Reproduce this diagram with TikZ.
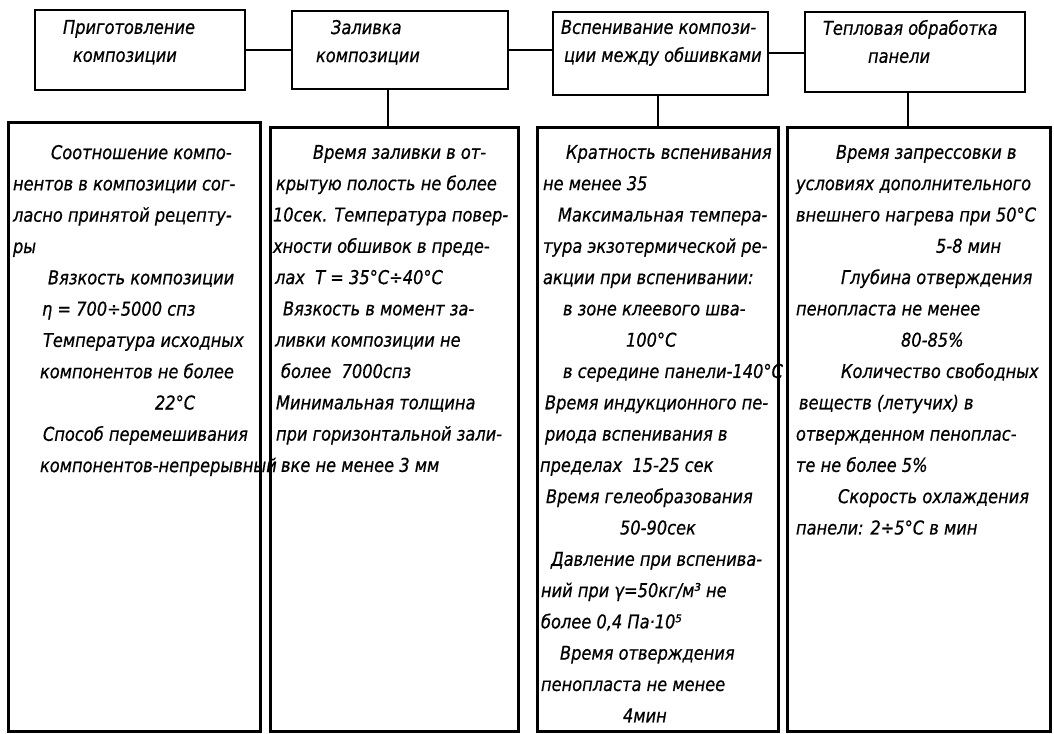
\documentclass[tikz,border=0pt]{standalone}
\usepackage{fontspec}
\setmainfont{DejaVu Sans Condensed}[ItalicFont={DejaVu Sans Condensed Oblique}, FakeStretch=0.95, FakeBold=0.6]
\usepackage{tikz}

\begin{document}
\begin{tikzpicture}[x=1pt, y=-1pt,
				line width=2pt,
				stage/.style={draw, line width=2.6pt, inner sep=0pt},
				cell/.style={draw, line width=3pt, inner sep=0pt},
				head/.style={anchor=north west, inner sep=0pt, align=left, font=\fontsize{19}{28}\selectfont\itshape},
				body/.style={anchor=north west, inner sep=0pt, align=left, font=\fontsize{19}{31.3}\selectfont\itshape}]
	\useasboundingbox (0,0) rectangle (1054,733);
	% stages
	\node at (140,50) (a) [stage, minimum width=210pt, minimum height=80pt] {};
	\node at (400,50) (b) [stage, minimum width=216pt, minimum height=78pt] {};
	\node at (660.5,53.5) (c) [stage, minimum width=215pt, minimum height=83pt] {};
	\node at (915,52) (d) [stage, minimum width=220pt, minimum height=80pt] {};
	\node at (62,19) (ah) [head] {Приготовление\\\hspace*{10pt}композиции};
	\node at (315,19) (bh) [head] {\hspace*{15pt}Заливка\\композиции};
	\node at (560,19) (ch) [head] {Вспенивание компози-\\\hspace*{3pt}ции между обшивками};
	\node at (822,19) (dh) [head] {Тепловая обработка\\\hspace*{45pt}панели};
	% parameters
	\node at (134,427) (ta) [cell, minimum width=252pt, minimum height=608pt] {};
	\node at (394,429.5) (tb) [cell, minimum width=248pt, minimum height=603pt] {};
	\node at (657.5,429.5) (tc) [cell, minimum width=241pt, minimum height=603pt] {};
	\node at (918.5,429.5) (td) [cell, minimum width=263pt, minimum height=603pt] {};
	\node at (12,144) (at) [body] {\hspace*{38pt}Соотношение компо-\\
		нентов в композиции сог-\\
		ласно принятой рецепту-\\
		ры\\
		\hspace*{35pt}Вязкость композиции\\
		\hspace*{29pt}η = 700÷5000 спз\\
		\hspace*{30pt}Температура исходных\\
		\hspace*{27pt}компонентов не более\\
		\hspace*{142pt}22°C\\
		\hspace*{30pt}Способ перемешивания\\
		\hspace*{27pt}компонентов-непрерывный};
	\node at (272,144) (bt) [body] {\hspace*{40pt}Время заливки в от-\\
		\hspace*{3pt}крытую полость не более\\
		10сек. Температура повер-\\
		хности обшивок в преде-\\
		\hspace*{2pt}лах \ T = 35°C÷40°C\\
		\hspace*{10pt}Вязкость в момент за-\\
		\hspace*{2pt}ливки композиции не\\
		\hspace*{8pt}более \ 7000спз\\
		\hspace*{3pt}Минимальная толщина\\
		\hspace*{3pt}при горизонтальной зали-\\
		\hspace*{8pt}вке не менее 3 мм};
	\node at (539,144) (ct) [body] {\hspace*{26pt}Кратность вспенивания\\
		\hspace*{3pt}не менее 35\\
		\hspace*{18pt}Максимальная темпера-\\
		\hspace*{3pt}тура экзотермической ре-\\
		\hspace*{3pt}акции при вспенивании:\\
		\hspace*{23pt}в зоне клеевого шва-\\
		\hspace*{86pt}100°C\\
		\hspace*{23pt}в середине панели-140°C\\
		\hspace*{5pt}Время индукционного пе-\\
		\hspace*{5pt}риода вспенивания в\\
		пределах \ 15-25 сек\\
		\hspace*{6pt}Время гелеобразования\\
		\hspace*{80pt}50-90сек\\
		\hspace*{11pt}Давление при вспенива-\\
		\hspace*{1pt}ний при γ=50кг/м³ не\\
		\hspace*{1pt}более 0,4 Па·10⁵\\
		\hspace*{20pt}Время отверждения\\
		\hspace*{1pt}пенопласта не менее\\
		\hspace*{83pt}4мин};
	\node at (795,144) (dt) [body] {\hspace*{40pt}Время запрессовки в\\
		условиях дополнительного\\
		внешнего нагрева при 50°C\\
		\hspace*{140pt}5-8 мин\\
		\hspace*{45pt}Глубина отверждения\\
		пенопласта не менее\\
		\hspace*{105pt}80-85\%\\
		\hspace*{45pt}Количество свободных\\
		\hspace*{3pt}веществ (летучих) в\\
		отвержденном пеноплас-\\
		те не более 5\%\\
		\hspace*{42pt}Скорость охлаждения\\
		панели: 2÷5°C в мин};
	% links
	\draw (a) -- (b);
	\draw (b.east) -- (b.east -| c.west);
	\draw (c.east) -- (c.east -| d.west);
	\draw ([xshift=-12pt]b.south) -- ([xshift=-12pt]b.south |- tb.north);
	\draw (c.south -| tc.north) -- (tc.north);
	\draw ([xshift=-7pt]d.south) -- ([xshift=-7pt]d.south |- td.north);
\end{tikzpicture}
\end{document}
